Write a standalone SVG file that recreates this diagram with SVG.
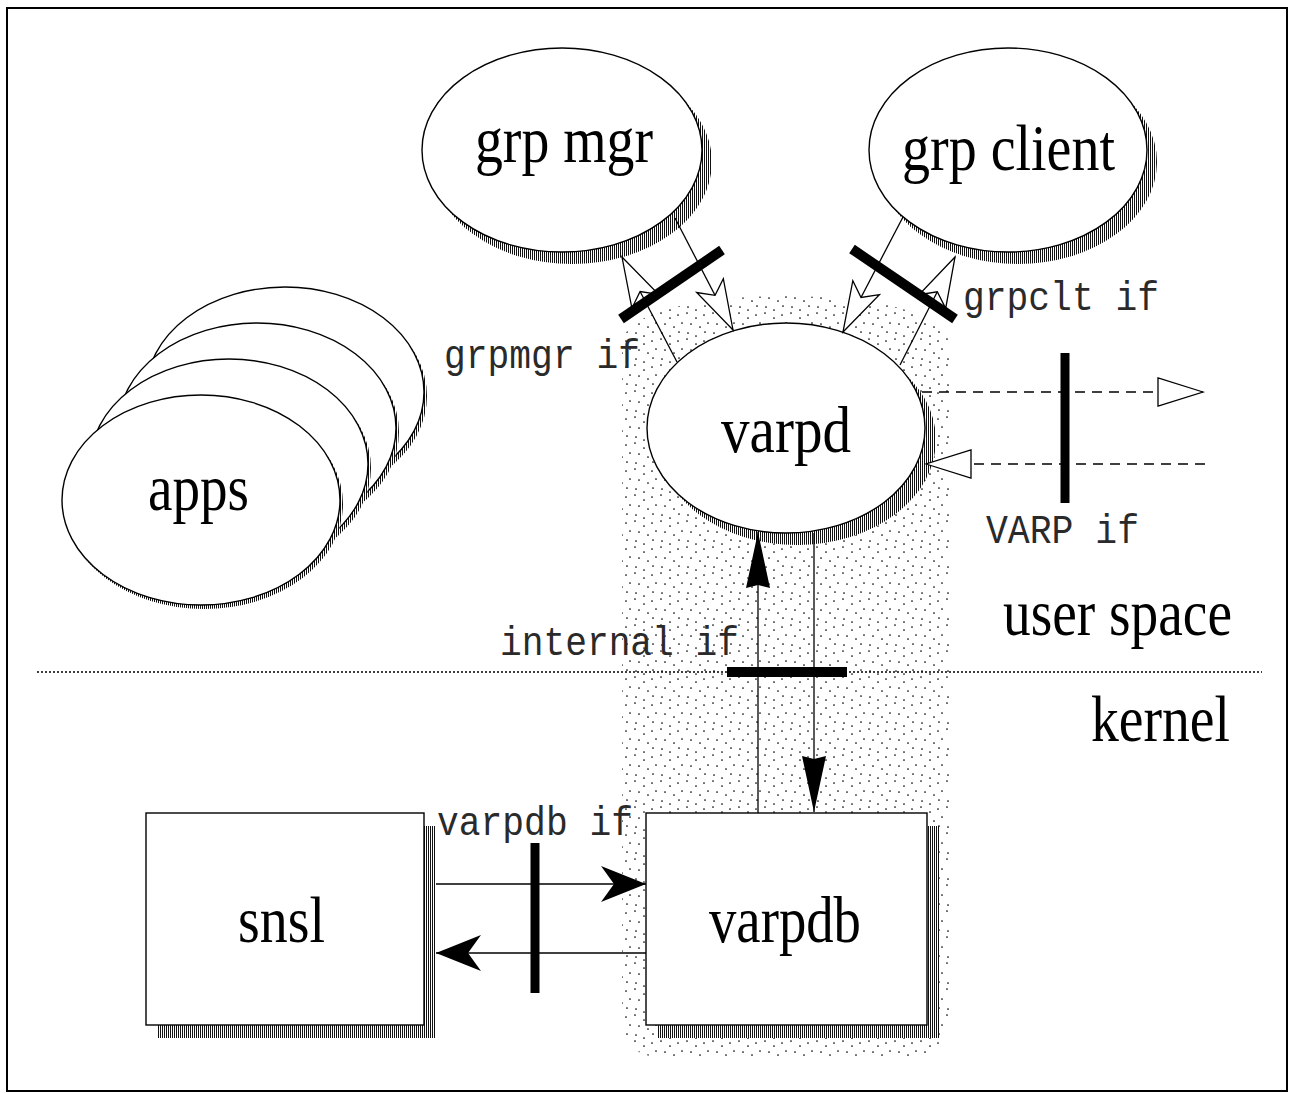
<svg xmlns="http://www.w3.org/2000/svg" width="1291" height="1093" viewBox="0 0 1291 1093">
  <style>
    .node { fill: #fff; stroke: #000; stroke-width: 1.4; }
    .shadow { fill: url(#hatch); stroke: none; }
    .thin { fill: none; stroke: #000; stroke-width: 1.3; }
    .dash { fill: none; stroke: #000; stroke-width: 1.3; stroke-dasharray: 10 7; }
    .bar { stroke: #000; stroke-width: 10; stroke-linecap: butt; }
    .big { font-family: "Liberation Serif", "Times New Roman", serif; font-size: 66px; fill: #000; }
    .mono { font-family: "Liberation Mono", "Courier New", monospace; font-size: 41px; fill: #2a2a2a; }
  </style>
  <defs>
    <pattern id="hatch" width="2" height="2" patternUnits="userSpaceOnUse">
      <rect width="2" height="2" fill="#fff"/>
      <rect width="1" height="2" fill="#111"/>
    </pattern>
    <pattern id="stipple" width="26" height="26" patternUnits="userSpaceOnUse">
      <g fill="#000">
        <circle cx="2" cy="3" r="0.85"/>
        <circle cx="11" cy="1" r="0.85"/>
        <circle cx="20" cy="6" r="0.85"/>
        <circle cx="6" cy="11" r="0.85"/>
        <circle cx="15" cy="12" r="0.85"/>
        <circle cx="24" cy="15" r="0.85"/>
        <circle cx="3" cy="20" r="0.85"/>
        <circle cx="12" cy="21" r="0.85"/>
        <circle cx="20" cy="24" r="0.85"/>
      </g>
    </pattern>
    <marker id="hollowNotch" markerUnits="userSpaceOnUse" orient="auto" overflow="visible" refX="0" refY="0" markerWidth="1" markerHeight="1">
      <path d="M0,0 L-50,-15 L-39,0 L-50,15 Z" fill="#fff" stroke="#000" stroke-width="1.3" stroke-linejoin="miter"/>
    </marker>
    <marker id="hollowTri" markerUnits="userSpaceOnUse" orient="auto" overflow="visible" refX="0" refY="0" markerWidth="1" markerHeight="1">
      <path d="M0,0 L-45,-14 L-45,14 Z" fill="#fff" stroke="#000" stroke-width="1.3"/>
    </marker>
    <marker id="solidLong" markerUnits="userSpaceOnUse" orient="auto" overflow="visible" refX="0" refY="0" markerWidth="1" markerHeight="1">
      <path d="M0,0 L-56,-12 L-53,0 L-56,12 Z" fill="#000"/>
    </marker>
    <marker id="solidWide" markerUnits="userSpaceOnUse" orient="auto" overflow="visible" refX="0" refY="0" markerWidth="1" markerHeight="1">
      <path d="M0,0 L-45,-18 L-32,0 L-45,18 Z" fill="#000"/>
    </marker>
  </defs>

  <rect x="0" y="0" width="1291" height="1093" fill="#fff"/>
  <!-- outer frame -->
  <rect x="7" y="8" width="1280" height="1083" fill="none" stroke="#000" stroke-width="2"/>

  <!-- stippled area grouping varpd and varpdb -->
  <path id="varp-area" d="M622,345 C622,312 700,296 786,296 C872,296 950,312 950,345 L950,1015 Q950,1058 907,1058 L665,1058 Q622,1058 622,1015 Z" fill="url(#stipple)" stroke="none"/>

  <!-- user / kernel boundary -->
  <line x1="37" y1="672" x2="1262" y2="672" stroke="#000" stroke-width="1.5" stroke-dasharray="2 2"/>
  <text class="big" x="1003" y="635" textLength="229" lengthAdjust="spacingAndGlyphs">user space</text>
  <text class="big" x="1091" y="741" textLength="139" lengthAdjust="spacingAndGlyphs">kernel</text>

  <g id="apps">
    <ellipse class="shadow" cx="288" cy="396" rx="139" ry="105"/>
    <ellipse class="node" cx="285" cy="392" rx="139" ry="105"/>
    <ellipse class="shadow" cx="260" cy="432" rx="139" ry="105"/>
    <ellipse class="node" cx="257" cy="428" rx="139" ry="105"/>
    <ellipse class="shadow" cx="232" cy="468" rx="139" ry="105"/>
    <ellipse class="node" cx="229" cy="464" rx="139" ry="105"/>
    <ellipse class="shadow" cx="204" cy="504" rx="139" ry="105"/>
    <ellipse class="node" cx="201" cy="500" rx="139" ry="105"/>
    <text class="big" x="148" y="510" textLength="101" lengthAdjust="spacingAndGlyphs">apps</text>
  </g>

  <g id="grp-mgr">
    <ellipse class="shadow" cx="572" cy="162" rx="140" ry="102"/>
    <ellipse class="node" cx="562" cy="150" rx="140" ry="102"/>
    <text class="big" x="475" y="162" textLength="178" lengthAdjust="spacingAndGlyphs">grp mgr</text>
  </g>

  <g id="grp-client">
    <ellipse class="shadow" cx="1018" cy="162" rx="139" ry="102"/>
    <ellipse class="node" cx="1008" cy="150" rx="139" ry="102"/>
    <text class="big" x="902" y="170" textLength="213" lengthAdjust="spacingAndGlyphs">grp client</text>
  </g>

  <g id="varpd">
    <ellipse class="shadow" cx="797" cy="440" rx="139" ry="105"/>
    <ellipse class="node" cx="786" cy="428" rx="139" ry="105"/>
    <text class="big" x="721" y="452" textLength="130" lengthAdjust="spacingAndGlyphs">varpd</text>
  </g>

  <g id="snsl">
    <rect class="shadow" x="158" y="826" width="278" height="212"/>
    <rect class="node" x="146" y="813" width="278" height="212"/>
    <text class="big" x="238" y="942" textLength="87" lengthAdjust="spacingAndGlyphs">snsl</text>
  </g>

  <g id="varpdb">
    <rect class="shadow" x="658" y="826" width="281" height="212"/>
    <rect class="node" x="646" y="813" width="281" height="212"/>
    <text class="big" x="709" y="942" textLength="152" lengthAdjust="spacingAndGlyphs">varpdb</text>
  </g>

  <g id="connectors">
    <!-- grpmgr if -->
    <line class="thin" x1="677" y1="362" x2="622" y2="257" marker-end="url(#hollowNotch)"/>
    <line class="thin" x1="675" y1="218" x2="733" y2="330" marker-end="url(#hollowNotch)"/>
    <line class="bar" x1="621" y1="319" x2="722" y2="250"/>
    <text class="mono" x="444" y="368" textLength="196" lengthAdjust="spacingAndGlyphs">grpmgr if</text>

    <!-- grpclt if -->
    <line class="thin" x1="903" y1="217" x2="843" y2="332" marker-end="url(#hollowNotch)"/>
    <line class="thin" x1="900" y1="365" x2="955" y2="257" marker-end="url(#hollowNotch)"/>
    <line class="bar" x1="852" y1="249" x2="955" y2="319"/>
    <text class="mono" x="963" y="310" textLength="196" lengthAdjust="spacingAndGlyphs">grpclt if</text>

    <!-- VARP if -->
    <line class="dash" x1="922" y1="392" x2="1203" y2="392" marker-end="url(#hollowTri)"/>
    <line class="dash" x1="1205" y1="464" x2="926" y2="464" marker-end="url(#hollowTri)"/>
    <line class="bar" x1="1065" y1="353" x2="1065" y2="503" style="stroke-width:9"/>
    <text class="mono" x="986" y="543" textLength="153" lengthAdjust="spacingAndGlyphs">VARP if</text>

    <!-- internal if -->
    <line class="thin" x1="758" y1="813" x2="758" y2="532" marker-end="url(#solidLong)"/>
    <line class="thin" x1="814" y1="533" x2="814" y2="812" marker-end="url(#solidLong)"/>
    <line class="bar" x1="727" y1="672" x2="847" y2="672"/>
    <text class="mono" x="500" y="655" textLength="239" lengthAdjust="spacingAndGlyphs">internal if</text>

    <!-- varpdb if -->
    <line class="thin" x1="436" y1="884" x2="646" y2="884" marker-end="url(#solidWide)"/>
    <line class="thin" x1="646" y1="953" x2="436" y2="953" marker-end="url(#solidWide)"/>
    <line class="bar" x1="535" y1="843" x2="535" y2="993" style="stroke-width:9"/>
    <text class="mono" x="437" y="835" textLength="196" lengthAdjust="spacingAndGlyphs">varpdb if</text>
  </g>
</svg>
